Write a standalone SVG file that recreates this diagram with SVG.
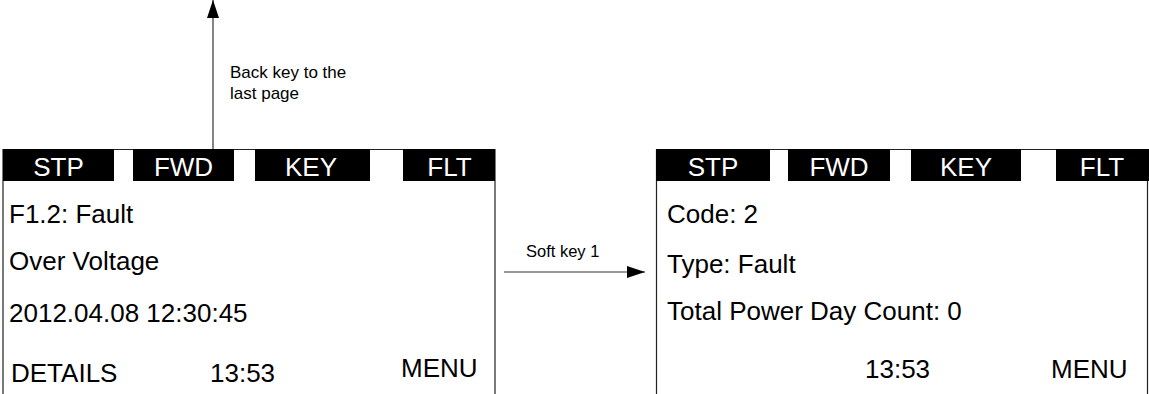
<svg xmlns="http://www.w3.org/2000/svg" width="1149" height="394" viewBox="0 0 1149 394">
<style>
.frame{fill:none;stroke:#222;stroke-width:1.2}
.blk{fill:#000}
.bt{font-family:"Liberation Sans",Arial,sans-serif;font-size:26px;fill:#fff;text-anchor:middle}
.t{font-family:"Liberation Sans",Arial,sans-serif;font-size:26px;fill:#000}
.lbl{font-family:"Liberation Sans",Arial,sans-serif;font-size:17px;fill:#000}
.lbl2{font-family:"Liberation Sans",Arial,sans-serif;font-size:16.5px;fill:#000}
.conn{stroke:#333;stroke-width:1.2;fill:none}
</style>
<defs>
<marker id="arr" markerWidth="18" markerHeight="12" refX="18" refY="6" orient="auto" markerUnits="userSpaceOnUse">
<path d="M0,0 L18,6 L0,12 Z" fill="#000"/>
</marker>
</defs>
<rect width="1149" height="394" fill="#fff"/>
<g id="screen1">
<path class="frame" d="M3,394 V149.5 H495 V394"/>
<rect class="blk" x="3" y="149" width="111" height="32"/>
<rect class="blk" x="133" y="149" width="101" height="32"/>
<rect class="blk" x="255" y="149" width="115" height="32"/>
<rect class="blk" x="403" y="149" width="92" height="32"/>
<text class="bt" x="58.5" y="176">STP</text>
<text class="bt" x="183.5" y="176">FWD</text>
<text class="bt" x="311" y="176">KEY</text>
<text class="bt" x="449.5" y="176">FLT</text>
<text class="t" x="9" y="223">F1.2: Fault</text>
<text class="t" x="9" y="270">Over Voltage</text>
<text class="t" x="9" y="322">2012.04.08 12:30:45</text>
<text class="t" x="11" y="382">DETAILS</text>
<text class="t" x="210" y="382">13:53</text>
<text class="t" x="401" y="377">MENU</text>
</g>
<g id="screen2">
<path class="frame" d="M656.5,394 V149.5 H1147.5 V394"/>
<rect class="blk" x="656" y="149" width="114" height="32"/>
<rect class="blk" x="788" y="149" width="102" height="32"/>
<rect class="blk" x="911" y="149" width="110" height="32"/>
<rect class="blk" x="1056" y="149" width="93" height="32"/>
<text class="bt" x="713" y="176">STP</text>
<text class="bt" x="839" y="176">FWD</text>
<text class="bt" x="966" y="176">KEY</text>
<text class="bt" x="1102" y="176">FLT</text>
<text class="t" x="667" y="223">Code: 2</text>
<text class="t" x="667" y="273">Type: Fault</text>
<text class="t" x="667" y="320">Total Power Day Count: 0</text>
<text class="t" x="865" y="378">13:53</text>
<text class="t" x="1051" y="378">MENU</text>
</g>
<g id="connectors">
<line class="conn" x1="213" y1="149" x2="213" y2="0" marker-end="url(#arr)"/>
<text class="lbl" x="230" y="78">Back key to the</text>
<text class="lbl" x="230" y="99">last page</text>
<line class="conn" x1="504" y1="272" x2="645" y2="272" marker-end="url(#arr)"/>
<text class="lbl2" x="526" y="257">Soft key 1</text>
</g>
</svg>
